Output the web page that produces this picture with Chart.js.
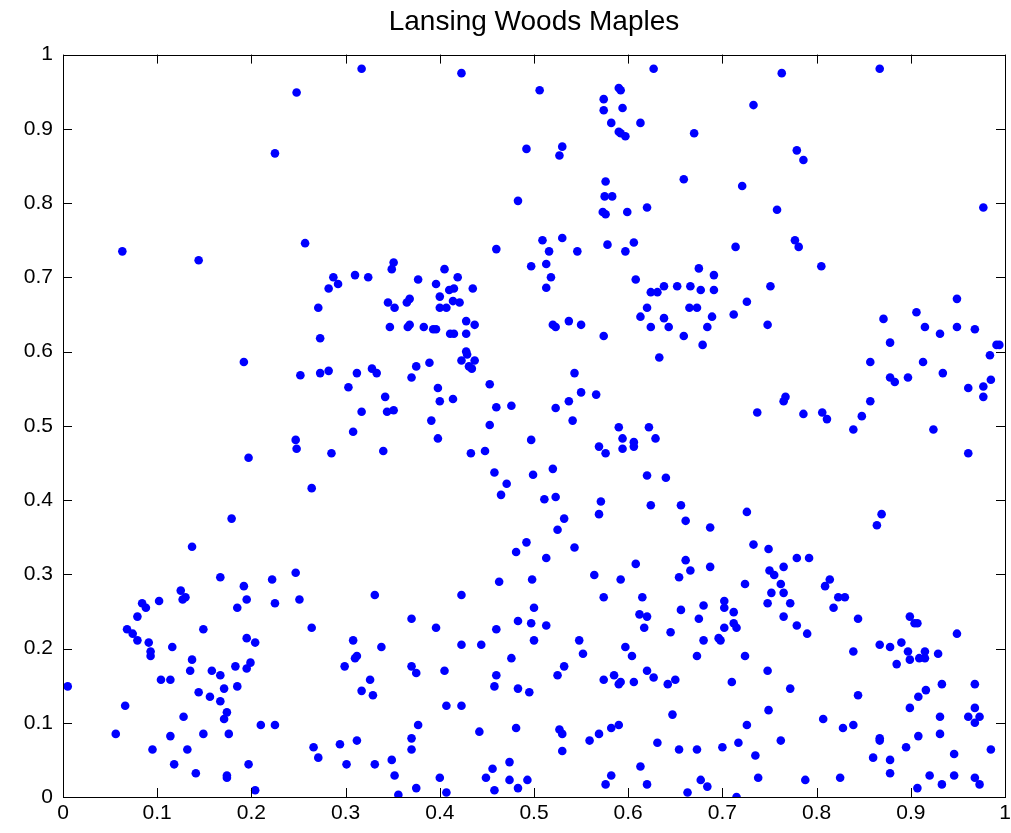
<!DOCTYPE html>
<html>
<head>
<meta charset="utf-8">
<script src="https://cdn.jsdelivr.net/npm/chart.js@4"></script>
<style>
  html, body { margin: 0; padding: 0; background: #fff; }
  #wrap { width: 1011px; height: 833px; }
</style>
</head>
<body>
<div id="wrap"><canvas id="myChart"></canvas></div>
<script>
'use strict';

const chartTitle = 'Lansing Woods Maples';
const tickLabels = ['0', '0.1', '0.2', '0.3', '0.4', '0.5', '0.6', '0.7', '0.8', '0.9', '1'];

const xValues = [
    0.248,0.225,0.063,0.144,
    0.317,0.423,0.492,0.483,0.257,0.460,0.497,0.351,0.349,0.287,0.292,0.282,0.310,0.324,0.405,0.377,0.396,0.419,0.410,0.415,0.435,0.400,0.368,0.365,0.345,0.414,0.421,
    0.352,0.400,0.407,0.271,0.428,0.437,0.347,0.366,0.368,0.383,
    0.393,0.396,0.411,0.415,0.428,0.273,0.428,0.429,0.423,0.437,
    0.431,0.434,0.389,0.375,0.370,0.252,0.273,0.282,0.312,0.328,
    0.333,0.303,0.398,0.453,0.342,0.400,0.414,0.317,0.344,0.351,
    0.460,0.476,0.453,0.391,0.308,0.398,0.247,0.248,0.285,0.340,
    0.433,0.448,0.497,0.458,0.499,0.471,0.465,0.264,0.492,0.481,
    0.192,0.197,0.179,0.137,
    0.167,0.192,0.222,0.247,0.251,0.225,0.195,0.185,0.125,0.130,
    0.127,0.102,0.084,0.088,0.079,0.068,0.074,0.079,0.149,0.195,
    0.204,0.091,0.093,0.093,0.116,0.137,0.135,0.158,0.167,0.183,
    0.195,0.199,0.104,0.114,0.005,0.144,0.156,0.171,0.185,0.167,
    0.174,0.171,0.066,0.128,0.210,0.225,0.056,0.114,0.149,0.176,
    0.095,0.132,0.118,0.141,0.174,0.174,0.197,0.204,
    0.264,0.331,0.370,0.396,0.423,0.463,0.498,0.500,0.483,0.497,
    0.460,0.500,0.308,0.338,0.423,0.444,0.312,0.310,0.299,0.370,
    0.375,0.476,0.460,0.458,0.405,0.326,0.317,0.329,0.483,0.495,
    0.407,0.423,0.377,0.370,0.370,0.442,0.481,0.266,0.271,0.294,
    0.312,0.301,0.331,0.349,0.352,0.356,0.375,0.400,0.407,0.474,
    0.456,0.449,0.474,0.493,0.483,0.458,
    0.513,0.513,0.564,0.592,0.608,0.574,0.615,0.612,0.620,0.617,
    0.548,0.552,0.597,0.604,0.532,0.525,0.574,0.585,0.590,0.592,
    0.606,0.620,0.627,0.642,0.650,0.645,0.656,0.661,0.666,0.654,
    0.687,0.680,0.675,0.680,0.673,0.702,0.702,0.712,0.712,0.715,
    0.702,0.696,0.698,0.724,0.750,0.752,0.748,0.724,0.748,0.710,
    0.749,0.647,0.726,0.527,0.530,0.530,0.559,0.569,0.582,0.590,
    0.631,0.654,0.673,0.700,0.717,0.735,0.738,0.613,0.582,0.576,
    0.620,0.677,0.684,0.663,0.715,
    0.620,0.613,0.638,0.624,0.643,0.665,0.673,0.689,0.684,0.659,
    0.679,0.712,0.726,0.748,0.633,0.520,0.523,0.537,0.550,0.574,
    0.543,0.550,0.537,0.566,0.523,0.541,0.737,0.590,0.622,0.594,
    0.629,0.606,0.606,0.594,0.569,0.576,0.520,0.620,0.640,0.511,
    0.523,0.571,0.569,0.624,0.656,0.661,0.687,0.726,0.532,0.525,
    0.543,0.733,0.749,
    0.627,0.506,0.733,0.590,0.592,0.574,0.574,0.594,0.582,0.613,
    0.590,0.592,0.597,0.670,0.530,0.527,0.659,0.721,0.576,0.575,
    0.583,0.573,0.576,0.599,0.620,0.714,0.509,0.530,0.516,0.546,
    0.578,0.606,0.597,0.513,0.518,0.513,0.608,0.624,0.631,0.638,
    0.652,0.666,0.677,0.691,0.675,0.691,0.751,
    0.763,0.867,0.779,0.786,0.758,0.977,0.777,0.781,0.805,0.949,
    0.871,0.906,0.915,0.931,0.949,0.968,0.878,0.991,0.994,0.857,
    0.913,0.984,0.878,0.883,0.897,0.934,0.961,0.977,0.985,0.977,
    0.767,0.765,0.786,0.806,0.811,0.857,0.848,0.839,0.924,0.961,
    0.869,0.864,
    0.779,0.792,0.755,0.765,0.762,0.765,0.772,0.765,0.779,0.790,
    0.809,0.814,0.823,0.830,0.818,0.844,0.839,0.899,0.904,0.907,
    0.949,0.867,0.878,0.890,0.897,0.899,0.909,0.915,0.915,0.929,
    0.885,0.772,0.844,0.807,0.828,0.839,0.762,0.867,0.867,0.895,
    0.860,0.878,0.878,0.788,0.825,0.933,0.916,0.908,0.899,0.968,
    0.968,0.961,0.973,0.968,0.931,0.931,0.908,0.985,0.946,0.920,
    0.933,0.946,0.968,0.973,0.907
];
const yValues = [
    0.949,0.867,0.735,0.723,
    0.981,0.975,0.873,0.803,0.746,0.738,0.715,0.720,0.711,0.700,0.691,0.685,0.703,0.700,0.711,0.697,0.691,0.700,0.683,0.685,0.685,0.674,0.671,0.666,0.666,0.668,0.666,
    0.659,0.659,0.659,0.659,0.641,0.636,0.633,0.633,0.636,0.633,
    0.630,0.630,0.624,0.624,0.624,0.618,0.600,0.596,0.588,0.588,
    0.580,0.577,0.585,0.580,0.565,0.568,0.571,0.574,0.571,0.577,
    0.571,0.552,0.551,0.556,0.539,0.533,0.536,0.519,0.519,0.521,
    0.525,0.527,0.501,0.507,0.492,0.483,0.481,0.469,0.463,0.466,
    0.463,0.466,0.481,0.437,0.434,0.422,0.407,0.416,0.343,0.330,
    0.586,0.457,0.375,0.337,
    0.296,0.284,0.293,0.302,0.266,0.261,0.266,0.255,0.278,0.269,
    0.266,0.264,0.261,0.255,0.243,0.226,0.220,0.211,0.226,0.214,
    0.208,0.208,0.196,0.190,0.202,0.185,0.170,0.170,0.164,0.176,
    0.173,0.181,0.158,0.158,0.149,0.141,0.135,0.146,0.149,0.129,
    0.114,0.105,0.123,0.108,0.097,0.097,0.085,0.082,0.085,0.085,
    0.064,0.064,0.044,0.032,0.029,0.026,0.044,0.009,
    0.228,0.272,0.240,0.228,0.272,0.290,0.293,0.255,0.237,0.234,
    0.226,0.211,0.211,0.202,0.205,0.205,0.190,0.187,0.176,0.176,
    0.167,0.187,0.164,0.149,0.170,0.158,0.143,0.137,0.146,0.141,
    0.123,0.123,0.097,0.079,0.064,0.088,0.093,0.067,0.053,0.071,
    0.076,0.044,0.044,0.050,0.029,0.003,0.012,0.026,0.006,0.047,
    0.038,0.026,0.023,0.023,0.012,0.009,
    0.322,0.231,0.299,0.293,0.314,0.269,0.269,0.246,0.243,0.228,
    0.211,0.193,0.202,0.190,0.176,0.164,0.158,0.164,0.152,0.155,
    0.155,0.170,0.161,0.152,0.158,0.222,0.252,0.319,0.305,0.296,
    0.310,0.258,0.240,0.211,0.190,0.264,0.255,0.249,0.234,0.228,
    0.228,0.214,0.211,0.287,0.305,0.275,0.261,0.190,0.170,0.155,
    0.117,0.111,0.097,0.091,0.085,0.062,0.076,0.085,0.093,0.097,
    0.073,0.064,0.064,0.067,0.073,0.056,0.026,0.041,0.029,0.017,
    0.017,0.023,0.014,0.006,0.000,
    0.659,0.647,0.645,0.633,0.633,0.659,0.659,0.647,0.633,0.621,
    0.609,0.650,0.667,0.636,0.592,0.636,0.633,0.641,0.636,0.621,
    0.571,0.545,0.533,0.542,0.524,0.507,0.518,0.498,0.498,0.483,
    0.483,0.478,0.472,0.469,0.472,0.463,0.442,0.433,0.430,0.401,
    0.404,0.398,0.381,0.393,0.393,0.372,0.363,0.384,0.375,0.360,
    0.336,0.340,0.334,
    0.981,0.952,0.932,0.955,0.952,0.940,0.925,0.928,0.908,0.908,
    0.896,0.894,0.890,0.894,0.876,0.864,0.832,0.823,0.829,0.809,
    0.809,0.788,0.785,0.788,0.794,0.741,0.750,0.753,0.735,0.735,
    0.744,0.747,0.735,0.718,0.700,0.686,0.697,0.680,0.680,0.688,
    0.688,0.688,0.683,0.683,0.712,0.703,0.688,
    0.975,0.981,0.871,0.858,0.791,0.794,0.750,0.741,0.715,0.671,
    0.644,0.653,0.633,0.624,0.633,0.630,0.612,0.609,0.609,0.586,
    0.586,0.595,0.565,0.559,0.565,0.571,0.551,0.553,0.562,0.539,
    0.539,0.533,0.516,0.518,0.509,0.533,0.513,0.495,0.495,0.463,
    0.381,0.366,
    0.322,0.322,0.299,0.310,0.287,0.275,0.261,0.243,0.231,0.220,
    0.284,0.293,0.269,0.269,0.255,0.240,0.196,0.243,0.234,0.234,
    0.220,0.205,0.202,0.208,0.196,0.185,0.187,0.187,0.196,0.193,
    0.179,0.146,0.137,0.105,0.093,0.097,0.076,0.079,0.076,0.067,
    0.053,0.050,0.032,0.023,0.026,0.152,0.144,0.135,0.120,0.152,
    0.120,0.108,0.108,0.100,0.108,0.085,0.082,0.064,0.058,0.029,
    0.017,0.029,0.026,0.017,0.012
];

const points = xValues.map((x, i) => ({ x: x, y: yValues[i] }));

// MATLAB style box: frame on all four sides, ticks pointing inward
const boxTicks = {
    id: 'boxTicks',
    afterDatasetsDraw(chart) {
        const ctx = chart.ctx;
        const a = chart.chartArea;
        const xs = chart.scales.x, ys = chart.scales.y;
        const len = 9;
        ctx.save();
        ctx.strokeStyle = '#000';
        ctx.lineWidth = 1;
        ctx.strokeRect(Math.round(a.left) + 0.5, Math.round(a.top) + 0.5,
            Math.round(a.right - a.left), Math.round(a.bottom - a.top));
        ctx.beginPath();
        xs.ticks.forEach(function (t) {
            const px = Math.round(xs.getPixelForValue(t.value)) + 0.5;
            ctx.moveTo(px, a.bottom); ctx.lineTo(px, a.bottom - len);
            ctx.moveTo(px, a.top); ctx.lineTo(px, a.top + len);
        });
        ys.ticks.forEach(function (t) {
            const py = Math.round(ys.getPixelForValue(t.value)) + 0.5;
            ctx.moveTo(a.left, py); ctx.lineTo(a.left + len, py);
            ctx.moveTo(a.right, py); ctx.lineTo(a.right - len, py);
        });
        ctx.stroke();
        ctx.restore();
    }
};

const tickFont = { family: "'Liberation Sans', Arial, sans-serif", size: 21 };

new Chart(document.getElementById('myChart'), {
    type: 'scatter',
    data: {
        datasets: [{
            data: points,
            pointStyle: 'circle',
            pointRadius: 4.3,
            pointHoverRadius: 4.3,
            pointBackgroundColor: '#0000ff',
            pointBorderColor: '#0000ff',
            pointBorderWidth: 0
        }]
    },
    options: {
        responsive: true,
        maintainAspectRatio: false,
        animation: false,
        events: [],
        layout: { padding: { left: 0, right: 6, top: 0, bottom: 0 } },
        plugins: {
            legend: { display: false },
            tooltip: { enabled: false },
            title: {
                display: true,
                fullSize: false,
                text: chartTitle,
                color: '#000',
                font: { family: "'Liberation Sans', Arial, sans-serif", size: 28, weight: 'normal' },
                padding: { top: 5, bottom: 16 }
            }
        },
        scales: {
            x: {
                type: 'linear',
                min: 0,
                max: 1,
                grid: { display: false, drawTicks: false },
                border: { display: false },
                ticks: {
                    stepSize: 0.1,
                    color: '#000',
                    font: tickFont,
                    padding: 4,
                    maxRotation: 0,
                    callback: (v, i) => tickLabels[i]
                },
                afterFit: (scale) => {
                    scale.height = 36;
                    scale.paddingRight = 0;
                    scale.paddingLeft = 0;
                }
            },
            y: {
                type: 'linear',
                min: 0,
                max: 1,
                grid: { display: false, drawTicks: false },
                border: { display: false },
                ticks: {
                    stepSize: 0.1,
                    color: '#000',
                    font: tickFont,
                    padding: 10,
                    callback: (v, i) => tickLabels[i]
                },
                afterFit: (scale) => { scale.width = 63; }
            }
        }
    },
    plugins: [boxTicks]
});
</script>
</body>
</html>
